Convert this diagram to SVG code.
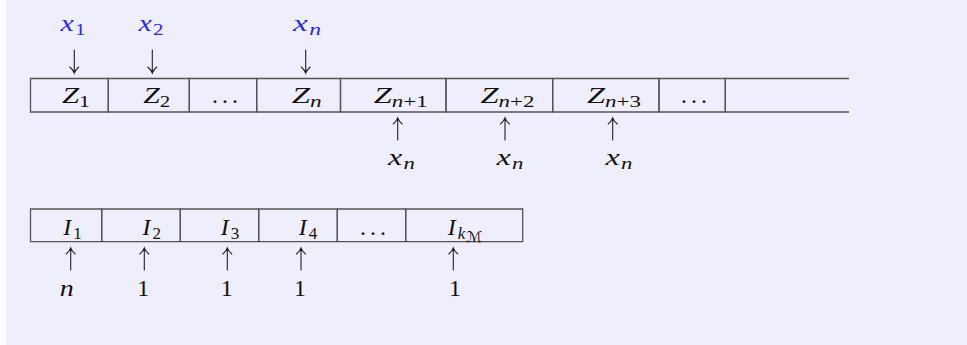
<svg xmlns="http://www.w3.org/2000/svg" width="967" height="345" viewBox="0 0 967 345">
<defs>
<style>
.cell{fill:none;stroke:#555;stroke-width:1.3}
.t{font-family:"Liberation Serif","DejaVu Serif",serif;font-size:24px;fill:#111;text-anchor:middle}
.i{font-style:italic}
.s{font-size:17px}
.blue{fill:#2828f5}
.arr{fill:none;stroke:#222;stroke-width:1.1;stroke-linecap:round}
</style>
</defs>
<rect x="6" y="0" width="961" height="345" fill="#eeeefc"/>

<g id="inputs-top">
<text class="t blue" x="73" y="31" textLength="25" lengthAdjust="spacingAndGlyphs"><tspan class="i">x</tspan><tspan class="s" dx="1" dy="4">1</tspan></text>
<text class="t blue" x="151" y="31" textLength="25" lengthAdjust="spacingAndGlyphs"><tspan class="i">x</tspan><tspan class="s" dx="1" dy="4">2</tspan></text>
<text class="t blue" x="307" y="31" textLength="28" lengthAdjust="spacingAndGlyphs"><tspan class="i">x</tspan><tspan class="s i" dx="1" dy="4">n</tspan></text>
</g>

<g id="Z1"><path class="cell" d="M30.5,78.5H108.3V112H30.5Z"/><text class="t" x="76" y="103" textLength="28" lengthAdjust="spacingAndGlyphs"><tspan class="i">Z</tspan><tspan class="s" dy="4">1</tspan></text></g>
<g id="Z2"><path class="cell" d="M108.3,78.5H189.3V112H108.3Z"/><text class="t" x="156.7" y="103" textLength="27" lengthAdjust="spacingAndGlyphs"><tspan class="i">Z</tspan><tspan class="s" dy="4">2</tspan></text></g>
<g id="Zdots1"><path class="cell" d="M189.3,78.5H256.7V112H189.3Z"/><text class="t" x="225" y="103" textLength="26" lengthAdjust="spacing">. . .</text></g>
<g id="Zn"><path class="cell" d="M256.7,78.5H340.5V112H256.7Z"/><text class="t" x="306.7" y="103" textLength="30" lengthAdjust="spacingAndGlyphs"><tspan class="i">Z</tspan><tspan class="s i" dy="4">n</tspan></text></g>
<g id="Zn1"><path class="cell" d="M340.5,78.5H446V112H340.5Z"/><text class="t" x="400.8" y="103" textLength="54" lengthAdjust="spacingAndGlyphs"><tspan class="i">Z</tspan><tspan class="s" dy="4"><tspan class="i">n</tspan>+1</tspan></text></g>
<g id="Zn2"><path class="cell" d="M446,78.5H552.7V112H446Z"/><text class="t" x="507.5" y="103" textLength="54" lengthAdjust="spacingAndGlyphs"><tspan class="i">Z</tspan><tspan class="s" dy="4"><tspan class="i">n</tspan>+2</tspan></text></g>
<g id="Zn3"><path class="cell" d="M552.7,78.5H659V112H552.7Z"/><text class="t" x="614" y="103" textLength="54" lengthAdjust="spacingAndGlyphs"><tspan class="i">Z</tspan><tspan class="s" dy="4"><tspan class="i">n</tspan>+3</tspan></text></g>
<g id="Zdots2"><path class="cell" d="M659,78.5H725.3V112H659Z"/><text class="t" x="694" y="103" textLength="26" lengthAdjust="spacing">. . .</text></g>
<g id="Zrest"><path class="cell" d="M849,78.5H725.3V112H849"/></g>

<g id="inputs-bottom-top">
<text class="t" x="401.5" y="165" textLength="27" lengthAdjust="spacingAndGlyphs"><tspan class="i">x</tspan><tspan class="s i" dx="1" dy="4">n</tspan></text>
<text class="t" x="510" y="165" textLength="27" lengthAdjust="spacingAndGlyphs"><tspan class="i">x</tspan><tspan class="s i" dx="1" dy="4">n</tspan></text>
<text class="t" x="619" y="165" textLength="27" lengthAdjust="spacingAndGlyphs"><tspan class="i">x</tspan><tspan class="s i" dx="1" dy="4">n</tspan></text>
</g>

<g id="I1"><path class="cell" d="M30.5,209H101.7V241.7H30.5Z"/><text class="t" x="72.5" y="235"><tspan class="i">I</tspan><tspan class="s" dx="2" dy="4">1</tspan></text></g>
<g id="I2"><path class="cell" d="M101.7,209H180.3V241.7H101.7Z"/><text class="t" x="151.7" y="235"><tspan class="i">I</tspan><tspan class="s" dx="2" dy="4">2</tspan></text></g>
<g id="I3"><path class="cell" d="M180.3,209H258.7V241.7H180.3Z"/><text class="t" x="230" y="235"><tspan class="i">I</tspan><tspan class="s" dx="2" dy="4">3</tspan></text></g>
<g id="I4"><path class="cell" d="M258.7,209H337.3V241.7H258.7Z"/><text class="t" x="308" y="235"><tspan class="i">I</tspan><tspan class="s" dx="2" dy="4">4</tspan></text></g>
<g id="Idots"><path class="cell" d="M337.3,209H405.7V241.7H337.3Z"/><text class="t" x="373" y="235" textLength="26" lengthAdjust="spacing">. . .</text></g>
<g id="IkM"><path class="cell" d="M405.7,209H522.7V241.7H405.7Z"/><text class="t" x="465" y="235"><tspan class="i">I</tspan><tspan class="s i" dx="2" dy="4">k</tspan><tspan style="font-size:15px;font-family:'DejaVu Sans',sans-serif" dx="1" dy="2.5">ℳ</tspan></text></g>

<g id="counts">
<text class="t i" x="66.7" y="296" textLength="14" lengthAdjust="spacingAndGlyphs">n</text>
<text class="t" x="143.3" y="296">1</text>
<text class="t" x="226.7" y="296">1</text>
<text class="t" x="300" y="296">1</text>
<text class="t" x="455" y="296">1</text>
</g>

<g id="connectors">
<path class="arr" d="M74.3,50V73M69.8,67Q73.3,70 74.3,73Q75.3,70 78.8,67"/>
<path class="arr" d="M152.3,50V73M147.8,67Q151.3,70 152.3,73Q153.3,70 156.8,67"/>
<path class="arr" d="M305.7,50V73M301.2,67Q304.7,70 305.7,73Q306.7,70 310.2,67"/>
<path class="arr" d="M397.7,140V118M393.2,124Q396.7,121 397.7,118Q398.7,121 402.2,124"/>
<path class="arr" d="M505,140V118M500.5,124Q504,121 505,118Q506,121 509.5,124"/>
<path class="arr" d="M612.7,140V118M608.2,124Q611.7,121 612.7,118Q613.7,121 617.2,124"/>
<path class="arr" d="M70.7,270V248M66.2,254Q69.7,251 70.7,248Q71.7,251 75.2,254"/>
<path class="arr" d="M144.3,270V248M139.8,254Q143.3,251 144.3,248Q145.3,251 148.8,254"/>
<path class="arr" d="M227.3,270V248M222.8,254Q226.3,251 227.3,248Q228.3,251 231.8,254"/>
<path class="arr" d="M301,270V248M296.5,254Q300,251 301,248Q302,251 305.5,254"/>
<path class="arr" d="M453.3,270V248M448.8,254Q452.3,251 453.3,248Q454.3,251 457.8,254"/>
</g>
</svg>
